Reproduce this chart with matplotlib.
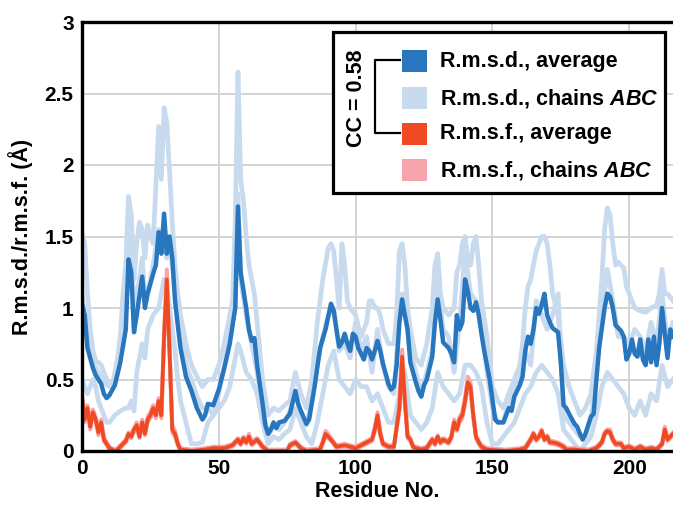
import matplotlib
matplotlib.use("Agg")
import matplotlib.pyplot as plt
from matplotlib.patches import Rectangle
from matplotlib.lines import Line2D

plt.rcParams['font.family'] = ['Liberation Sans', 'DejaVu Sans']
plt.rcParams['font.weight'] = 'bold'
plt.rcParams['mathtext.fontset'] = 'custom'
plt.rcParams['mathtext.it'] = 'Liberation Sans:italic:bold'
plt.rcParams['mathtext.rm'] = 'Liberation Sans:bold'

# averaged r.m.s.d. (dark blue)
rmsd_avg_res = [0, 1, 2, 4, 5, 7, 8, 9, 10, 12, 14, 16, 17, 18, 19, 20, 22, 23, 24, 26,
                27, 28, 29, 30, 31, 32, 33, 34, 35, 36, 38, 40, 42, 44, 45, 46, 48, 50, 52, 54,
                56, 57, 58, 60, 61, 62, 63, 64, 66, 67, 68, 69, 70, 71, 72, 74, 76, 77, 78, 79,
                80, 82, 83, 85, 87, 89, 91, 92, 93, 94, 95, 96, 97, 98, 99, 100, 101, 103, 104, 105,
                106, 107, 108, 109, 110, 112, 113, 114, 115, 116, 117, 118, 119, 120, 122, 123, 124, 125, 126, 128,
                129, 130, 131, 132, 134, 135, 136, 137, 138, 139, 140, 141, 142, 143, 144, 145, 146, 147, 149, 151,
                152, 154, 156, 157, 158, 160, 161, 162, 163, 164, 165, 166, 167, 168, 169, 170, 171, 172, 174, 175,
                176, 177, 178, 180, 181, 182, 183, 184, 185, 186, 187, 188, 189, 191, 192, 193, 194, 195, 196, 197,
                198, 199, 200, 201, 202, 203, 204, 205, 206, 207, 208, 209, 210, 211, 212, 213, 214, 215, 216]
rmsd_avg = [1.03, 0.95, 0.72, 0.58, 0.53, 0.47, 0.40, 0.37, 0.39, 0.46, 0.62, 0.85, 1.34, 1.25, 0.83, 0.95, 1.22, 1.00, 1.10, 1.24,
            1.30, 1.53, 1.38, 1.66, 1.38, 1.50, 1.35, 1.05, 0.88, 0.72, 0.52, 0.42, 0.30, 0.22, 0.25, 0.33, 0.32, 0.43, 0.58, 0.75,
            1.00, 1.71, 1.25, 1.00, 0.85, 0.77, 0.79, 0.60, 0.33, 0.18, 0.12, 0.15, 0.20, 0.16, 0.20, 0.21, 0.26, 0.34, 0.42, 0.33,
            0.28, 0.19, 0.22, 0.45, 0.72, 0.85, 1.03, 0.98, 0.85, 0.73, 0.76, 0.82, 0.75, 0.70, 0.82, 0.80, 0.72, 0.64, 0.72, 0.70,
            0.64, 0.70, 0.77, 0.70, 0.61, 0.47, 0.43, 0.45, 0.60, 0.90, 1.06, 0.95, 0.85, 0.62, 0.48, 0.42, 0.38, 0.46, 0.50, 0.66,
            0.90, 1.06, 0.92, 0.76, 0.72, 0.68, 0.62, 0.95, 0.85, 0.90, 1.20, 1.12, 1.00, 0.98, 1.04, 0.95, 0.82, 0.70, 0.50, 0.22,
            0.20, 0.20, 0.30, 0.28, 0.38, 0.46, 0.52, 0.70, 0.80, 0.75, 0.85, 1.00, 0.96, 1.02, 1.10, 0.95, 0.90, 0.86, 0.83, 0.62,
            0.32, 0.30, 0.26, 0.19, 0.17, 0.12, 0.08, 0.12, 0.18, 0.24, 0.26, 0.50, 0.72, 1.00, 1.10, 1.08, 1.00, 0.88, 0.86, 0.84,
            0.80, 0.64, 0.68, 0.78, 0.68, 0.66, 0.78, 0.64, 0.60, 0.78, 0.62, 0.80, 0.60, 0.75, 1.00, 0.82, 0.65, 0.85, 0.80]

# r.m.s.d. of the single chains (light blue)
chain_a_res = [0, 1, 2, 3, 4, 5, 6, 7, 8, 9, 10, 11, 12, 13, 14, 15, 16, 17, 18, 19,
               20, 21, 22, 23, 24, 25, 26, 27, 28, 29, 30, 31, 32, 33, 34, 35, 36, 38, 40, 42,
               44, 46, 48, 50, 52, 54, 55, 56, 57, 58, 59, 60, 61, 62, 63, 64, 66, 68, 70, 72,
               74, 76, 78, 80, 82, 84, 86, 88, 90, 91, 92, 93, 94, 95, 96, 97, 98, 100, 102, 104,
               105, 106, 107, 108, 109, 110, 112, 114, 115, 116, 117, 118, 119, 120, 122, 124, 126, 128, 129, 130,
               131, 132, 134, 136, 137, 138, 139, 140, 141, 142, 143, 144, 145, 146, 148, 150, 152, 154, 156, 158,
               160, 161, 162, 163, 164, 165, 166, 167, 168, 169, 170, 171, 172, 174, 176, 178, 180, 182, 184, 186,
               188, 190, 191, 192, 193, 194, 195, 196, 197, 198, 199, 200, 202, 204, 206, 208, 210, 211, 212, 213,
               214, 216]
chain_a = [1.52, 1.45, 1.10, 0.85, 0.70, 0.63, 0.62, 0.60, 0.55, 0.50, 0.45, 0.45, 0.55, 0.65, 0.80, 1.10, 1.30, 1.78, 1.65, 1.20,
           1.45, 1.60, 1.55, 1.35, 1.58, 1.50, 1.45, 1.85, 2.27, 1.90, 2.40, 2.30, 1.95, 1.60, 1.30, 1.10, 0.95, 0.75, 0.60, 0.52,
           0.45, 0.50, 0.50, 0.60, 0.75, 0.95, 1.05, 1.60, 2.65, 1.90, 1.75, 1.50, 1.30, 1.20, 1.10, 0.90, 0.50, 0.25, 0.30, 0.28,
           0.32, 0.35, 0.55, 0.40, 0.30, 0.50, 0.90, 1.20, 1.42, 1.45, 1.40, 1.20, 1.00, 1.45, 1.30, 1.05, 1.00, 0.95, 0.80, 0.90,
           1.05, 1.05, 1.00, 1.00, 0.95, 0.85, 0.75, 0.75, 0.95, 1.40, 1.45, 1.30, 1.00, 0.85, 0.65, 0.60, 0.75, 1.00, 1.30, 1.38,
           1.10, 1.00, 0.95, 1.00, 1.25, 1.30, 1.45, 1.50, 1.35, 1.30, 1.45, 1.50, 1.30, 1.05, 0.80, 0.45, 0.35, 0.30, 0.40, 0.50,
           0.60, 0.75, 1.00, 1.15, 1.20, 1.30, 1.40, 1.45, 1.50, 1.50, 1.45, 1.30, 1.10, 0.95, 0.60, 0.45, 0.35, 0.25, 0.30, 0.40,
           0.70, 1.20, 1.55, 1.70, 1.65, 1.45, 1.30, 1.32, 1.30, 1.28, 1.15, 1.10, 1.00, 0.98, 0.97, 1.00, 1.02, 1.10, 1.27, 1.10,
           1.10, 1.05]

chain_b_res = [0, 2, 4, 6, 8, 10, 12, 14, 16, 17, 18, 19, 21, 22, 23, 25, 26, 28, 29, 30,
               31, 32, 34, 36, 38, 40, 42, 44, 46, 48, 50, 52, 54, 56, 57, 58, 60, 62, 64, 66,
               68, 70, 72, 74, 76, 78, 80, 82, 84, 86, 88, 90, 92, 94, 96, 98, 100, 102, 104, 106,
               108, 110, 112, 114, 116, 117, 118, 120, 122, 124, 126, 128, 130, 132, 134, 136, 138, 140, 142, 144,
               146, 148, 150, 152, 154, 156, 158, 160, 162, 164, 166, 168, 170, 172, 174, 176, 178, 180, 182, 184,
               186, 188, 190, 192, 194, 196, 198, 200, 202, 204, 206, 208, 210, 212, 214, 216]
chain_b = [1.10, 0.75, 0.62, 0.55, 0.48, 0.45, 0.50, 0.75, 1.10, 1.55, 1.45, 1.00, 1.20, 1.35, 1.05, 1.20, 1.30, 1.55, 1.45, 1.50,
           1.35, 1.45, 1.15, 0.85, 0.60, 0.50, 0.38, 0.30, 0.30, 0.25, 0.40, 0.60, 0.80, 1.00, 1.80, 1.20, 0.95, 0.75, 0.55, 0.30,
           0.10, 0.18, 0.15, 0.20, 0.28, 0.42, 0.25, 0.18, 0.35, 0.60, 0.80, 0.95, 1.00, 0.70, 0.75, 0.65, 0.90, 0.70, 0.80, 0.55,
           0.85, 0.60, 0.45, 0.40, 0.95, 1.10, 1.00, 0.70, 0.55, 0.40, 0.55, 0.70, 1.20, 0.85, 0.80, 0.55, 0.90, 1.40, 1.10, 1.05,
           0.95, 0.55, 0.30, 0.20, 0.20, 0.35, 0.45, 0.50, 0.70, 0.60, 1.05, 0.95, 0.85, 0.95, 1.10, 0.25, 0.20, 0.15, 0.10, 0.10,
           0.22, 0.55, 0.95, 1.27, 1.05, 0.80, 0.80, 0.75, 0.85, 0.80, 0.70, 0.90, 0.75, 1.10, 0.75, 0.90]

chain_c_res = [0, 1, 2, 3, 4, 5, 6, 7, 8, 9, 10, 12, 14, 16, 17, 18, 19, 20, 22, 23,
               24, 26, 28, 30, 31, 32, 33, 34, 35, 36, 38, 40, 42, 44, 46, 48, 50, 52, 54, 56,
               57, 58, 60, 62, 64, 66, 68, 70, 72, 74, 76, 78, 80, 82, 84, 86, 88, 90, 92, 94,
               96, 98, 100, 102, 104, 106, 108, 110, 112, 114, 116, 117, 118, 120, 122, 124, 126, 128, 130, 132,
               134, 136, 138, 140, 142, 144, 146, 148, 150, 152, 154, 156, 158, 160, 162, 164, 166, 168, 170, 172,
               174, 176, 178, 180, 182, 184, 186, 188, 190, 192, 194, 196, 198, 200, 202, 204, 206, 208, 210, 212,
               214, 216]
chain_c = [0.50, 0.45, 0.40, 0.45, 0.50, 0.45, 0.35, 0.30, 0.25, 0.20, 0.20, 0.25, 0.28, 0.30, 0.30, 0.35, 0.28, 0.55, 0.75, 0.65,
           0.85, 0.95, 1.00, 1.20, 1.15, 1.00, 0.85, 0.70, 0.50, 0.35, 0.20, 0.05, 0.05, 0.06, 0.20, 0.25, 0.30, 0.35, 0.45, 0.65,
           0.75, 0.70, 0.55, 0.50, 0.40, 0.20, 0.05, 0.10, 0.08, 0.12, 0.15, 0.30, 0.20, 0.10, 0.05, 0.20, 0.40, 0.60, 0.70, 0.50,
           0.45, 0.40, 0.50, 0.45, 0.45, 0.35, 0.40, 0.30, 0.20, 0.20, 0.40, 0.60, 0.55, 0.25, 0.20, 0.15, 0.20, 0.30, 0.55, 0.45,
           0.40, 0.35, 0.40, 0.60, 0.60, 0.55, 0.45, 0.20, 0.05, 0.05, 0.10, 0.15, 0.20, 0.30, 0.40, 0.45, 0.55, 0.60, 0.55, 0.50,
           0.40, 0.15, 0.10, 0.05, 0.00, 0.05, 0.10, 0.25, 0.45, 0.55, 0.50, 0.45, 0.40, 0.30, 0.25, 0.35, 0.25, 0.40, 0.35, 0.60,
           0.45, 0.50]

# r.m.s.f. residues (shared by average and single chains)
rmsf_res = [0, 1, 2, 3, 4, 5, 6, 7, 8, 9, 10, 12, 13, 14, 16, 17, 18, 19, 20, 21,
            22, 23, 24, 25, 26, 27, 28, 29, 30, 31, 32, 33, 34, 35, 36, 40, 45, 48, 52, 55,
            57, 58, 59, 60, 61, 62, 64, 66, 68, 75, 76, 78, 80, 82, 87, 88, 89, 90, 91, 93,
            96, 100, 103, 106, 107, 108, 109, 110, 112, 114, 116, 117, 118, 119, 120, 121, 122, 124, 126, 127,
            128, 129, 130, 131, 132, 134, 135, 136, 137, 138, 139, 140, 141, 142, 143, 144, 145, 146, 148, 155,
            160, 162, 164, 165, 166, 167, 168, 169, 170, 171, 172, 174, 176, 177, 180, 185, 188, 190, 191, 192,
            193, 194, 195, 197, 198, 200, 202, 204, 206, 208, 210, 212, 213, 214, 216]
# averaged r.m.s.f. (red)
rmsf_avg = [0.37, 0.22, 0.30, 0.17, 0.27, 0.22, 0.13, 0.20, 0.08, 0.05, 0.02, 0.00, 0.01, 0.03, 0.07, 0.12, 0.10, 0.15, 0.18, 0.10,
            0.20, 0.12, 0.22, 0.25, 0.30, 0.25, 0.35, 0.25, 0.80, 1.20, 0.70, 0.15, 0.12, 0.05, 0.01, 0.00, 0.01, 0.02, 0.02, 0.04,
            0.08, 0.05, 0.09, 0.06, 0.10, 0.05, 0.08, 0.03, 0.00, 0.00, 0.04, 0.06, 0.02, 0.00, 0.01, 0.06, 0.12, 0.10, 0.08, 0.03,
            0.04, 0.02, 0.05, 0.08, 0.15, 0.25, 0.12, 0.05, 0.03, 0.03, 0.30, 0.66, 0.35, 0.10, 0.08, 0.03, 0.02, 0.01, 0.02, 0.05,
            0.08, 0.05, 0.10, 0.06, 0.08, 0.06, 0.10, 0.20, 0.15, 0.22, 0.25, 0.35, 0.48, 0.45, 0.25, 0.10, 0.06, 0.03, 0.01, 0.00,
            0.01, 0.02, 0.08, 0.12, 0.08, 0.10, 0.14, 0.08, 0.10, 0.06, 0.06, 0.05, 0.03, 0.01, 0.01, 0.00, 0.02, 0.06, 0.12, 0.14,
            0.13, 0.08, 0.05, 0.05, 0.02, 0.03, 0.01, 0.03, 0.01, 0.02, 0.01, 0.05, 0.15, 0.08, 0.12]
# r.m.s.f. of the single chains (pink)
rmsf_a = [0.40, 0.25, 0.32, 0.20, 0.29, 0.24, 0.15, 0.22, 0.10, 0.06, 0.03, 0.01, 0.02, 0.04, 0.08, 0.13, 0.12, 0.16, 0.20, 0.12,
          0.22, 0.14, 0.24, 0.27, 0.32, 0.27, 0.37, 0.28, 0.85, 1.27, 0.75, 0.18, 0.14, 0.06, 0.02, 0.01, 0.02, 0.03, 0.03, 0.05,
          0.09, 0.07, 0.10, 0.08, 0.12, 0.07, 0.09, 0.04, 0.01, 0.01, 0.05, 0.07, 0.03, 0.01, 0.02, 0.07, 0.14, 0.12, 0.09, 0.04,
          0.05, 0.03, 0.06, 0.09, 0.17, 0.27, 0.14, 0.06, 0.04, 0.04, 0.33, 0.71, 0.38, 0.12, 0.09, 0.04, 0.03, 0.02, 0.03, 0.06,
          0.09, 0.06, 0.11, 0.07, 0.09, 0.07, 0.11, 0.22, 0.17, 0.24, 0.27, 0.38, 0.52, 0.48, 0.27, 0.11, 0.07, 0.04, 0.02, 0.01,
          0.02, 0.03, 0.09, 0.13, 0.09, 0.11, 0.15, 0.09, 0.11, 0.07, 0.07, 0.06, 0.04, 0.02, 0.02, 0.01, 0.03, 0.07, 0.13, 0.15,
          0.15, 0.09, 0.06, 0.06, 0.03, 0.04, 0.02, 0.04, 0.02, 0.03, 0.02, 0.06, 0.17, 0.09, 0.13]
rmsf_b = [0.34, 0.20, 0.28, 0.15, 0.25, 0.20, 0.11, 0.18, 0.07, 0.04, 0.01, 0.00, 0.00, 0.02, 0.06, 0.10, 0.09, 0.13, 0.16, 0.09,
          0.18, 0.11, 0.20, 0.23, 0.28, 0.23, 0.33, 0.23, 0.76, 1.15, 0.67, 0.13, 0.10, 0.04, 0.00, 0.00, 0.00, 0.01, 0.01, 0.03,
          0.07, 0.04, 0.08, 0.05, 0.09, 0.04, 0.07, 0.02, 0.00, 0.00, 0.03, 0.05, 0.01, 0.00, 0.00, 0.05, 0.10, 0.09, 0.07, 0.02,
          0.03, 0.01, 0.04, 0.07, 0.13, 0.23, 0.11, 0.04, 0.02, 0.02, 0.28, 0.62, 0.33, 0.09, 0.07, 0.02, 0.01, 0.00, 0.01, 0.04,
          0.07, 0.04, 0.09, 0.05, 0.07, 0.05, 0.09, 0.18, 0.14, 0.20, 0.23, 0.33, 0.45, 0.42, 0.23, 0.09, 0.05, 0.02, 0.00, 0.00,
          0.00, 0.01, 0.07, 0.11, 0.07, 0.09, 0.13, 0.07, 0.09, 0.05, 0.05, 0.04, 0.02, 0.00, 0.00, 0.00, 0.01, 0.05, 0.11, 0.13,
          0.12, 0.07, 0.04, 0.04, 0.01, 0.02, 0.00, 0.02, 0.00, 0.01, 0.00, 0.04, 0.13, 0.07, 0.11]
rmsf_c = [0.38, 0.23, 0.29, 0.18, 0.26, 0.22, 0.14, 0.19, 0.09, 0.05, 0.02, 0.01, 0.01, 0.03, 0.07, 0.12, 0.10, 0.14, 0.18, 0.10,
          0.21, 0.12, 0.22, 0.25, 0.30, 0.26, 0.34, 0.25, 0.79, 1.19, 0.70, 0.15, 0.12, 0.05, 0.01, 0.00, 0.01, 0.02, 0.02, 0.04,
          0.08, 0.05, 0.09, 0.06, 0.10, 0.05, 0.08, 0.03, 0.00, 0.00, 0.04, 0.06, 0.02, 0.00, 0.01, 0.06, 0.12, 0.10, 0.08, 0.03,
          0.04, 0.02, 0.05, 0.08, 0.15, 0.25, 0.12, 0.05, 0.03, 0.03, 0.29, 0.65, 0.35, 0.10, 0.08, 0.03, 0.02, 0.01, 0.02, 0.05,
          0.08, 0.05, 0.10, 0.06, 0.08, 0.06, 0.10, 0.20, 0.15, 0.22, 0.25, 0.35, 0.47, 0.45, 0.25, 0.10, 0.06, 0.03, 0.01, 0.00,
          0.01, 0.02, 0.08, 0.12, 0.08, 0.10, 0.14, 0.08, 0.10, 0.06, 0.06, 0.05, 0.03, 0.01, 0.01, 0.00, 0.02, 0.06, 0.12, 0.14,
          0.13, 0.08, 0.05, 0.05, 0.02, 0.03, 0.01, 0.03, 0.01, 0.02, 0.01, 0.05, 0.15, 0.08, 0.12]

yticks = [0, 0.5, 1, 1.5, 2, 2.5, 3]
ytick_labels = ['0', '0.5', '1', '1.5', '2', '2.5', '3']
xticks = [0, 50, 100, 150, 200]

legend_labels = ['R.m.s.d., average', r'R.m.s.d., chains $\mathit{ABC}$',
                 'R.m.s.f., average', r'R.m.s.f., chains $\mathit{ABC}$']
dark_blue = '#2877BE'
light_blue = '#C8DAEE'
red = '#EF4A22'
pink = '#F5A5AB'
legend_colors = [dark_blue, light_blue, red, pink]

W, H = 673, 505


def fx(px):
    return px / W


def fy(py):
    return 1 - py / H


fig = plt.figure(figsize=(W / 100, H / 100), dpi=100)
ax = fig.add_axes([fx(82), fy(451), fx(673) - fx(82), fy(22) - fy(451)])

for r, v in [(chain_a_res, chain_a), (chain_b_res, chain_b), (chain_c_res, chain_c)]:
    ax.plot(r, v, color=light_blue, lw=3.4, solid_joinstyle='round', zorder=2)
for v in [rmsf_a, rmsf_b, rmsf_c]:
    ax.plot(rmsf_res, v, color=pink, lw=2.8, solid_joinstyle='round', zorder=3)
ax.plot(rmsd_avg_res, rmsd_avg, color=dark_blue, lw=3.2, solid_joinstyle='round', zorder=4)
ax.plot(rmsf_res, rmsf_avg, color=red, lw=2.7, solid_joinstyle='round', zorder=5)

ax.set_xlim(0, 216)
ax.set_ylim(0, 3)
ax.set_xticks(xticks)
ax.set_yticks(yticks)
ax.set_yticklabels(ytick_labels)
ax.tick_params(length=0, labelsize=15, pad=6)
for lab in ax.get_xticklabels() + ax.get_yticklabels():
    lab.set_fontweight('bold')
ax.grid(True, color='#D3D3D3', lw=1.4)
ax.set_axisbelow(True)
ax.spines['right'].set_visible(False)
for s in ['left', 'top', 'bottom']:
    ax.spines[s].set_linewidth(2.4)
    ax.spines[s].set_zorder(6)
ax.set_xlabel('Residue No.', fontsize=15.5, fontweight='bold', labelpad=2)
ax.set_ylabel('R.m.s.d./r.m.s.f. (Å)', fontsize=15.5, fontweight='bold', labelpad=8)

# legend box drawn by hand
box = Rectangle((fx(333), fy(193)), fx(665) - fx(333), fy(32) - fy(193),
                transform=fig.transFigure, facecolor='white', edgecolor='black', lw=2.3, zorder=10)
fig.add_artist(box)
rows = [61, 98, 134, 170]
for yc, col, lab in zip(rows, legend_colors, legend_labels):
    fig.add_artist(Rectangle((fx(402), fy(yc + 11)), fx(427) - fx(402), fy(yc - 11) - fy(yc + 11),
                             transform=fig.transFigure, facecolor=col, edgecolor='none', zorder=11))
    fig.text(fx(440), fy(yc), lab, fontsize=15.5, fontweight='bold', va='center', ha='left', zorder=11)

fig.text(fx(357), fy(98), 'CC = 0.58', rotation=90, fontsize=15.5, fontweight='bold',
         ha='center', va='center', zorder=11)
fig.add_artist(Line2D([fx(400), fx(375), fx(375), fx(400)], [fy(60), fy(60), fy(133), fy(133)],
                      transform=fig.transFigure, color='black', lw=1.6, zorder=11))

fig.savefig('out.png', dpi=100)
